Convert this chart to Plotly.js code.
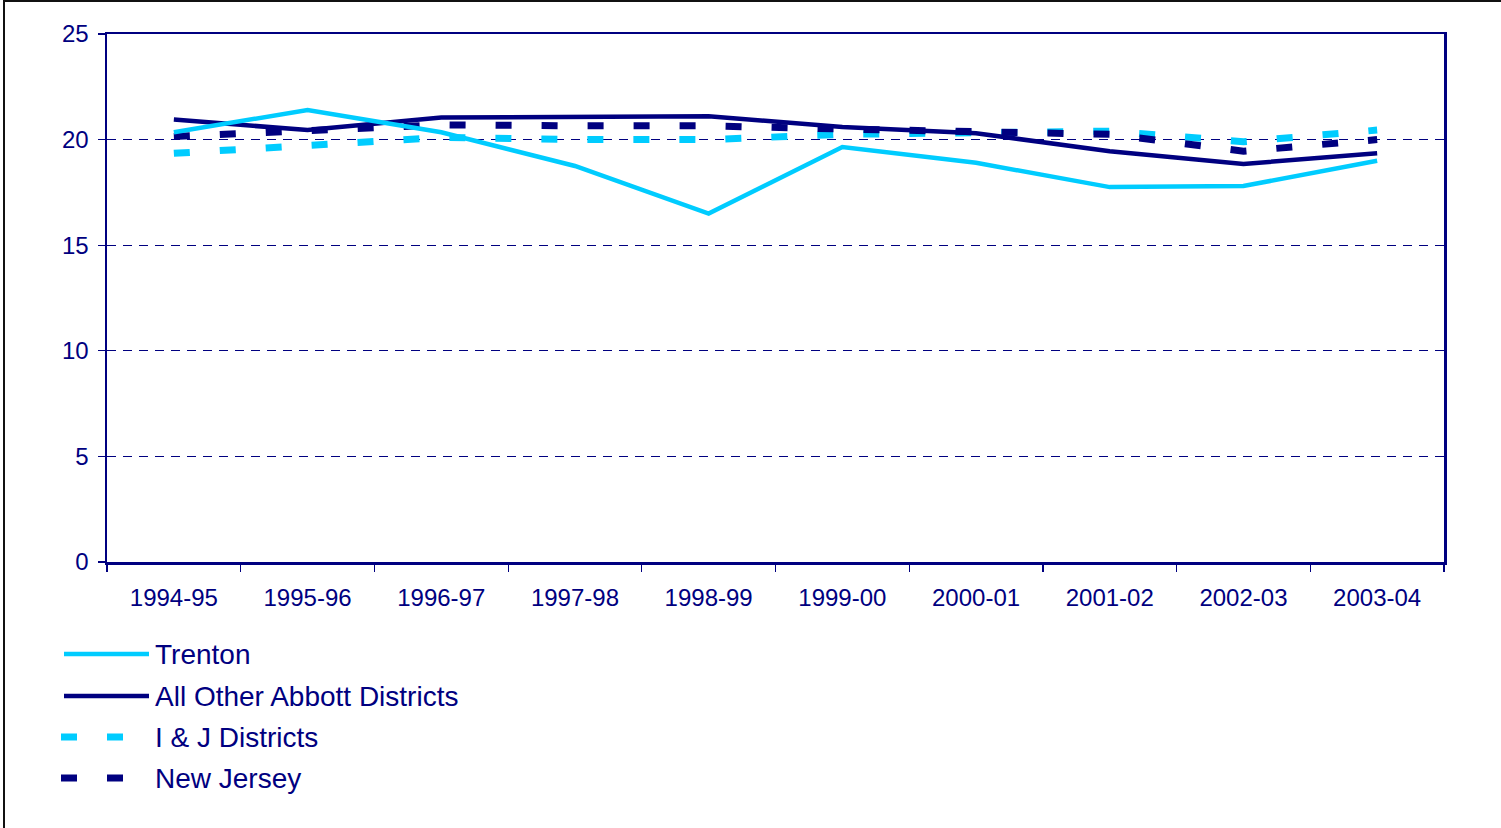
<!DOCTYPE html>
<html>
<head>
<meta charset="utf-8">
<script src="https://cdn.plot.ly/plotly-3.0.1.min.js"></script>
<style>
  html, body { margin: 0; padding: 0; background: #fff; }
  #wrap { position: relative; width: 1501px; height: 828px; overflow: hidden; }
  #chart { width: 1501px; height: 828px; }
  #frame { position: absolute; left: 3px; top: 0; width: 1510px; height: 840px;
           border-left: 2px solid #111; border-top: 2px solid #111; pointer-events: none; }
</style>
</head>
<body>
<div id="wrap"><div id="chart"></div><div id="frame"></div></div>
<script>
// ---- data ----
const years = ["1994-95","1995-96","1996-97","1997-98","1998-99","1999-00","2000-01","2001-02","2002-03","2003-04"];
const trenton   = [20.35, 21.4, 20.35, 18.75, 16.5, 19.65, 18.9, 17.75, 17.8, 19.0];
const otherAbbott = [20.95, 20.45, 21.05, 21.1, 21.1, 20.6, 20.3, 19.45, 18.85, 19.35];
const ijDistricts = [19.35, 19.7, 20.1, 20.0, 20.0, 20.25, 20.35, 20.4, 19.9, 20.45];
const newJersey   = [20.15, 20.45, 20.7, 20.65, 20.65, 20.5, 20.4, 20.25, 19.45, 20.0];
const seriesNames = ["Trenton", "All Other Abbott Districts", "I & J Districts", "New Jersey"];
const yTicks = [0, 5, 10, 15, 20, 25];

// ---- styles ----
const LIGHT = "#00CCFF", NAVY = "#000080";
const DASH = "16px,30px";
const styles = [
  {color: LIGHT, width: 4.5, dash: "solid"},
  {color: NAVY,  width: 4.5, dash: "solid"},
  {color: LIGHT, width: 7,   dash: DASH},
  {color: NAVY,  width: 7,   dash: DASH}
];
const values = [trenton, otherAbbott, ijDistricts, newJersey];
const order = [2, 3, 1, 0];
const traces = order.map(i => ({
  type: "scatter", mode: "lines", x: years, y: values[i], name: seriesNames[i],
  line: {color: styles[i].color, width: styles[i].width, dash: styles[i].dash},
  showlegend: false, hoverinfo: "x+y+name"
}));

// plot-area geometry (px) for custom legend
const L = 107, R = 57, T = 34, B = 266, W = 1501, H = 828;
const pw = W - L - R, ph = H - T - B;
const px2x = p => (p - L) / pw;
const py2y = p => (H - B - p) / ph;
const legendRows = [654, 696, 737, 778];
const shapes = [], annotations = [];
seriesNames.forEach((nm, i) => {
  const yy = py2y(legendRows[i]);
  const dashed = styles[i].dash !== "solid";
  shapes.push({
    type: "line", xref: "paper", yref: "paper",
    x0: px2x(dashed ? 61 : 64), x1: px2x(dashed ? 124 : 149), y0: yy, y1: yy,
    line: {color: styles[i].color, width: dashed ? 7 : 4.5, dash: dashed ? DASH : "solid"}
  });
  annotations.push({
    xref: "paper", yref: "paper", x: px2x(153), y: yy, xanchor: "left", yanchor: "middle",
    text: nm, showarrow: false, font: {family: "Liberation Sans, Arial, sans-serif", size: 28, color: NAVY}
  });
});

const layout = {
  width: W, height: H,
  margin: {l: L, r: R, t: T, b: B, pad: 0},
  paper_bgcolor: "#fff", plot_bgcolor: "#fff",
  font: {family: "Liberation Sans, Arial, sans-serif", size: 24, color: NAVY},
  showlegend: false,
  xaxis: {
    type: "category", tickson: "boundaries", range: [-0.5, years.length - 0.5],
    showline: true, linecolor: NAVY, linewidth: 2.5, mirror: true,
    ticks: "outside", ticklen: 7, tickwidth: 1.2, tickcolor: NAVY,
    showgrid: false, zeroline: false, ticklabelstandoff: 13,
    tickfont: {size: 24, color: NAVY}
  },
  yaxis: {
    range: [0, 25], tickvals: yTicks, ticktext: yTicks.map(String),
    showline: true, linecolor: NAVY, linewidth: 2.5, mirror: true,
    ticks: "outside", ticklen: 7, tickwidth: 1.2, tickcolor: NAVY,
    showgrid: true, gridcolor: NAVY, gridwidth: 1, griddash: "9px,7px",
    zeroline: false, ticklabelstandoff: 4,
    tickfont: {size: 24, color: NAVY}
  },
  shapes: shapes, annotations: annotations
};
Plotly.newPlot("chart", traces, layout, {displayModeBar: false, staticPlot: true});
</script>
</body>
</html>
